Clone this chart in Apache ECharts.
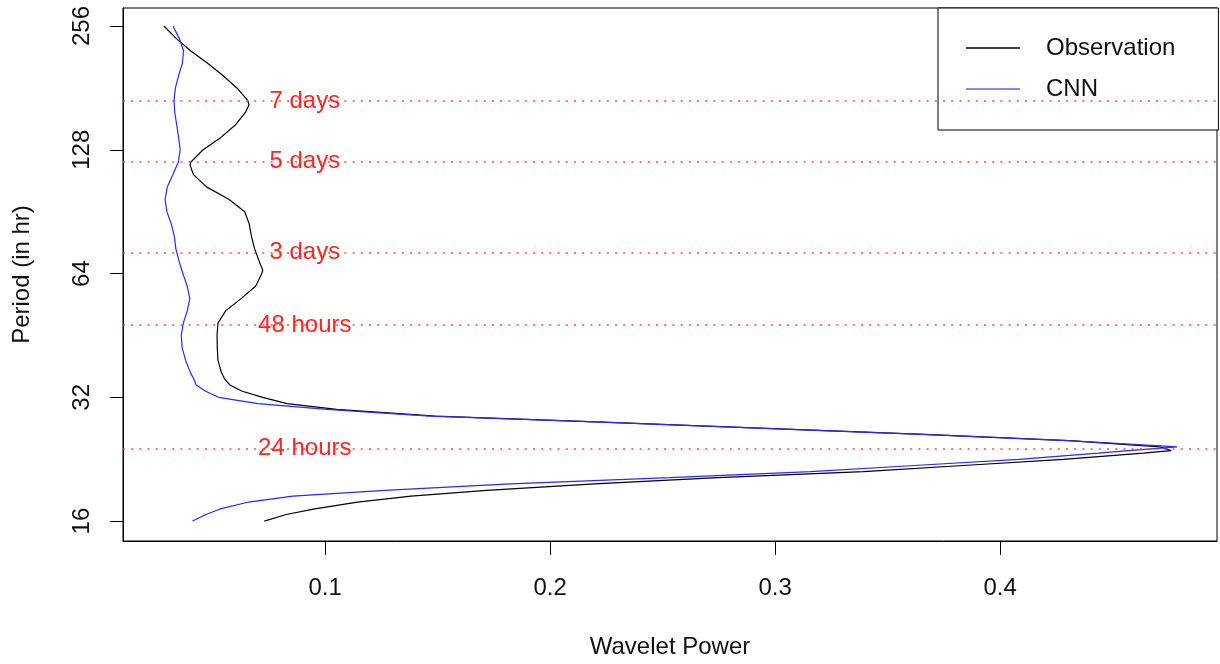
<!DOCTYPE html>
<html>
<head>
<meta charset="utf-8">
<script src="https://cdn.jsdelivr.net/npm/echarts@6/dist/echarts.min.js"></script>
<style>
  html, body { margin: 0; padding: 0; background: #fff; }
  #chart { width: 1220px; height: 664px; }
</style>
</head>
<body>
<div id="chart"></div>
<script>
// period (hr) grid shared by both spectra
var periods = [256, 238.9, 222.9, 207.9, 194.0, 181.0, 168.9, 164.5, 157.6, 147.0, 137.2,
  128, 119.4, 117.5, 111.4, 104.0, 97.0, 90.5, 84.4, 78.8, 73.5, 68.6, 65.3,
  64, 59.7, 55.7, 52.0, 48.5, 45.3, 42.2, 39.4, 36.8, 35.5,
  34.3, 33.1, 32, 30.9, 29.9, 28.8, 27.9, 26.9, 26.0, 25.1,
  24.25, 23.75, 23.4, 22.6, 21.9, 21.1, 20.4, 19.7, 19.0, 18.4,
  17.8, 17.1, 16.6, 16];
var obsPower = [0.0284, 0.0338, 0.0402, 0.0478, 0.0546, 0.0608, 0.0656, 0.0662, 0.0645, 0.0601, 0.0537,
  0.0458, 0.0403, 0.0400, 0.0415, 0.0473, 0.0572, 0.0643, 0.0663, 0.0673, 0.0687, 0.0707, 0.0723,
  0.0719, 0.0692, 0.0628, 0.0559, 0.0524, 0.0520, 0.0521, 0.0524, 0.0539, 0.0553,
  0.0577, 0.0632, 0.0723, 0.0831, 0.1052, 0.1490, 0.2204, 0.2960, 0.3663, 0.4305,
  0.4711, 0.4760, 0.4637, 0.4281, 0.3873, 0.3393, 0.2746, 0.2198, 0.1718, 0.1382,
  0.1144, 0.0948, 0.0828, 0.0730];
var cnnPower = [0.0324, 0.0352, 0.0371, 0.0366, 0.0349, 0.0335, 0.0329, 0.0330, 0.0332, 0.0341, 0.0349,
  0.0356, 0.0348, 0.0342, 0.0324, 0.0299, 0.0289, 0.0297, 0.0317, 0.0330, 0.0337, 0.0351, 0.0363,
  0.0368, 0.0387, 0.0399, 0.0388, 0.0370, 0.0361, 0.0365, 0.0380, 0.0401, 0.0416,
  0.0427, 0.0469, 0.0527, 0.0702, 0.1009, 0.1467, 0.2200, 0.2951, 0.3653, 0.4302,
  0.4787, 0.4571, 0.4436, 0.4084, 0.3656, 0.3158, 0.2532, 0.1824, 0.1265, 0.0857,
  0.0660, 0.0531, 0.0471, 0.0411];

var refPeriods = [168, 120, 72, 48, 24];
var refLabels = ['7 days', '5 days', '3 days', '48 hours', '24 hours'];
var refLabelPower = 0.091;

var xTicks = [0.1, 0.2, 0.3, 0.4];
var yTicks = [16, 32, 64, 128, 256];

var font = 'Liberation Sans, Arial, Helvetica, sans-serif';
var chart = echarts.init(document.getElementById('chart'));

function pairs(vals) {
  return periods.map(function (p, i) { return [vals[i], p]; });
}

var option = {
  animation: false,
  backgroundColor: '#fff',
  textStyle: { fontFamily: font },
  grid: {
    left: 123, right: 3, top: 8, bottom: 123,
    outerBoundsMode: 'none',
    show: true, borderColor: '#000', borderWidth: 1,
    backgroundColor: 'transparent'
  },
  legend: {
    data: [
      { name: 'Observation', lineStyle: { color: '#000', width: 1.5 } },
      { name: 'CNN', lineStyle: { color: '#8585ff', width: 2 } }
    ],
    orient: 'vertical',
    left: 938, top: 8,
    padding: [28, 43, 29, 27],
    itemWidth: 54, itemHeight: 14, itemGap: 17,
    itemStyle: { opacity: 0 },
    borderColor: '#000', borderWidth: 1,
    backgroundColor: '#fff',
    textStyle: { fontSize: 24, lineHeight: 24, color: '#111', fontFamily: font, padding: [0, 0, 0, 21] }
  },
  xAxis: {
    type: 'value',
    min: 0.0102, max: 0.4964,
    name: 'Wavelet Power',
    nameLocation: 'middle',
    nameGap: 94,
    nameTextStyle: { fontSize: 24, color: '#111', fontFamily: font },
    splitLine: { show: false },
    axisLine: { show: true, lineStyle: { color: '#000', width: 1 } },
    axisTick: { show: true, length: 14, lineStyle: { color: '#000' }, customValues: xTicks },
    axisLabel: { fontSize: 24, color: '#111', margin: 35, fontFamily: font, customValues: xTicks }
  },
  yAxis: {
    type: 'log',
    logBase: 2,
    min: 14.31, max: 283.2,
    name: 'Period (in hr)',
    nameLocation: 'middle',
    nameGap: 89,
    nameTextStyle: { fontSize: 24, color: '#111', fontFamily: font },
    splitLine: { show: false },
    axisLine: { show: true, lineStyle: { color: '#000', width: 1 } },
    axisTick: { show: true, length: 13, lineStyle: { color: '#000' }, customValues: yTicks },
    axisLabel: { fontSize: 24, color: '#111', margin: 29, rotate: 90, fontFamily: font, customValues: yTicks }
  },
  series: [
    {
      name: 'refs',
      type: 'scatter',
      symbolSize: 1,
      itemStyle: { color: 'rgba(0,0,0,0)', opacity: 1 },
      silent: true,
      z: 1,
      data: refPeriods.map(function (p, i) { return { value: [refLabelPower, p], label: { formatter: refLabels[i] } }; }),
      label: { show: true, position: 'inside', fontSize: 24, color: '#ff2424', opacity: 1, fontFamily: font },
      markLine: {
        symbol: 'none',
        silent: true,
        label: { show: false },
        lineStyle: { color: 'rgba(255,60,60,0.7)', type: [2, 6.2], width: 2 },
        data: refPeriods.map(function (p) { return { yAxis: p }; })
      }
    },
    {
      name: 'Observation',
      type: 'line',
      symbol: 'none',
      color: '#000',
      lineStyle: { color: '#000', width: 1.2 },
      z: 3,
      data: pairs(obsPower)
    },
    {
      name: 'CNN',
      type: 'line',
      symbol: 'none',
      color: '#2828ff',
      lineStyle: { color: '#2828ff', width: 1.2 },
      z: 4,
      data: pairs(cnnPower)
    }
  ]
};

chart.setOption(option);
</script>
</body>
</html>
